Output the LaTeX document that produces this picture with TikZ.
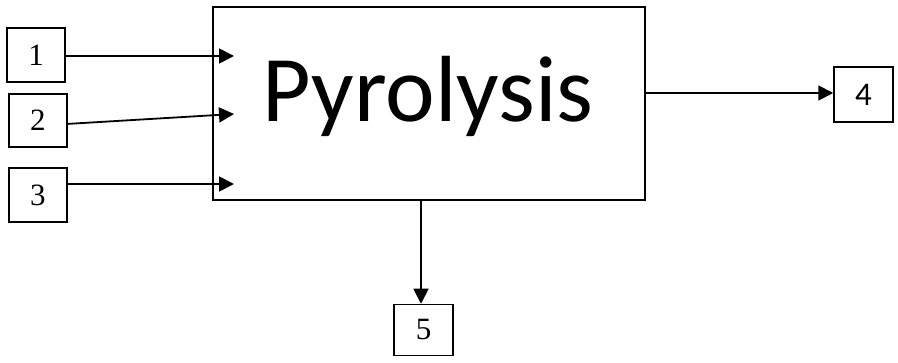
\documentclass[tikz,border=0pt]{standalone}
\usepackage{fontspec}
\setmainfont{Liberation Serif}
\newfontfamily\calib{Carlito}
\usetikzlibrary{arrows.meta}
\begin{document}
\begin{tikzpicture}[x=1pt,y=1pt,
  numbox/.style={draw,line width=1.5pt,inner sep=0pt,font=\fontsize{31}{31}\selectfont},
  flow/.style={line width=1.8pt,-{Triangle[length=15pt,width=15pt]}}]
\useasboundingbox (0,0) rectangle (898,362);
\node[draw,line width=1.8pt,minimum width=432pt,minimum height=193pt,inner sep=0pt] (main) at (429,258.5) {};
\node[anchor=base,font=\calib\fontsize{94}{94}\selectfont,inner sep=0pt] (lbl) at (428,240) {Pyrolysis};
\node[numbox,minimum width=58pt,minimum height=54pt] (b1) at (36,307) {1};
\node[numbox,minimum width=58pt,minimum height=53pt] (b2) at (38,241.5) {2};
\node[numbox,minimum width=58pt,minimum height=54pt] (b3) at (38,167) {3};
\node[numbox,minimum width=59pt,minimum height=55pt,font=\calib\fontsize{33}{33}\selectfont] (b4) at (863.5,267.5) {4};
\node[numbox,minimum width=59pt,minimum height=51pt] (b5) at (423.5,32) {5};
\coordinate (t1) at (234,306);
\coordinate (t2) at (234,248);
\coordinate (t3) at (234,178);
\coordinate (s2) at (66,238);
\coordinate (s4) at (645,269);
\coordinate (s5) at (421,162);
\draw[flow] (b1.east |- t1) -- (t1);
\draw[flow] (s2) -- (t2);
\draw[flow] (b3.east |- t3) -- (t3);
\draw[flow] (s4) -- (b4.west |- s4);
\draw[flow] (s5) -- (s5 |- b5.north);
\end{tikzpicture}
\end{document}
